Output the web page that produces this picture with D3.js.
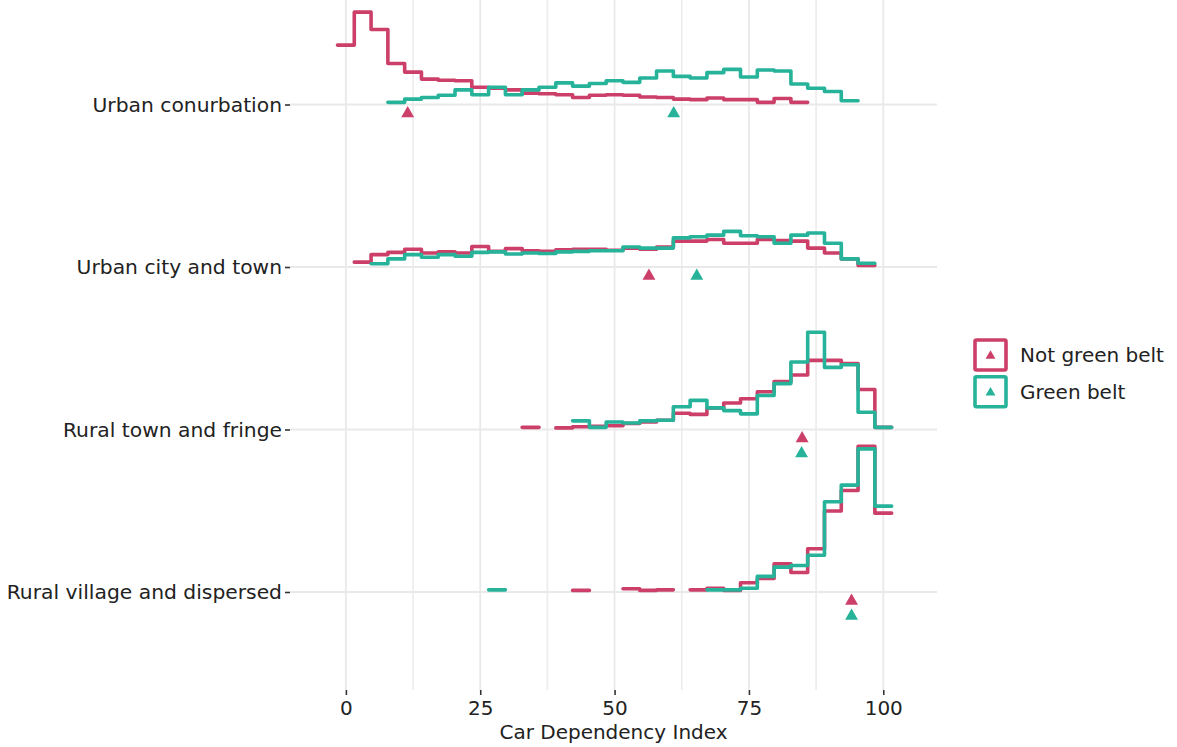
<!DOCTYPE html>
<meta charset="utf-8">
<script src="https://d3js.org/d3.v7.min.js"></script>
<style>
  body { margin: 0; background: #fff; }
  text { font-family: "DejaVu Sans", sans-serif; fill: #222; }
</style>

<div id="my_dataviz"></div>

<script>

// ridge categories, top to bottom
var categories = ["Urban conurbation", "Urban city and town", "Rural town and fringe", "Rural village and dispersed"];
var groups = ["Not green belt", "Green belt"];

// histogram bins: 33 bins of width 3.125 centred on 0, 3.125, ... 100
var binStart = -1.5625;
var binWidth = 3.125;

// share of areas in each bin (%), one array per ridge and group
var conurbNotGB = [11.0, 17.1, 13.9, 7.6, 6.0, 4.7, 4.5, 4.4, 3.2, 3.0, 2.7, 2.1, 2.0, 1.8, 1.3, 1.7, 1.8, 1.7, 1.4, 1.3, 1.0, 0.9, 1.2, 0.9, 0.9, 0.4, 1.1, 0.4, 0, 0, 0, 0, 0];
var conurbGB    = [0, 0, 0, 0.4, 1.0, 1.3, 1.7, 2.7, 1.8, 3.2, 1.8, 2.7, 3.2, 4.0, 3.4, 3.9, 4.4, 4.1, 4.9, 6.2, 5.2, 4.9, 5.9, 6.5, 5.1, 6.4, 6.2, 3.8, 3.0, 2.4, 0.7, 0, 0];
var cityNotGB   = [0, 0.9, 2.3, 2.7, 3.3, 2.6, 2.8, 2.6, 3.8, 2.9, 3.4, 3.0, 2.9, 3.2, 3.3, 3.3, 3.1, 3.5, 3.3, 3.7, 4.8, 4.8, 5.1, 4.4, 4.4, 5.1, 4.9, 4.8, 3.5, 2.6, 1.5, 0.3, 0];
var cityGB      = [0, 0, 0.6, 1.5, 2.3, 1.8, 2.3, 2.0, 2.7, 2.8, 2.4, 2.6, 2.5, 2.8, 2.9, 3.0, 3.0, 3.7, 3.5, 3.5, 5.4, 5.6, 5.9, 6.6, 5.8, 5.6, 4.4, 5.9, 6.3, 4.4, 1.5, 0.7, 0];
var townNotGB   = [0, 0, 0, 0, 0, 0, 0, 0, 0, 0, 0, 0.4, 0, 0.3, 0.5, 0.6, 0.7, 1.1, 1.4, 1.7, 3.0, 2.8, 4.0, 4.9, 5.7, 7.0, 8.9, 10.1, 12.8, 12.8, 12.2, 7.4, 0.4];
var townGB      = [0, 0, 0, 0, 0, 0, 0, 0, 0, 0, 0, 0, 0, 0, 1.6, 0.4, 1.4, 1.2, 1.6, 1.7, 4.2, 5.4, 4.0, 3.5, 2.9, 6.3, 8.5, 12.5, 18.0, 11.5, 12.0, 3.2, 0.4];
var villageNotGB = [0, 0, 0, 0, 0, 0, 0, 0, 0, 0, 0, 0, 0, 0, 0.3, 0, 0, 0.6, 0.3, 0.4, 0, 0.4, 0.7, 0.3, 1.7, 2.5, 5.2, 3.6, 8.0, 15.0, 18.8, 27.0, 14.6];
var villageGB   = [0, 0, 0, 0, 0, 0, 0, 0, 0, 0.4, 0, 0, 0, 0, 0, 0, 0, 0, 0, 0, 0, 0, 0.4, 0.4, 0.7, 2.9, 4.6, 4.9, 6.8, 16.7, 19.8, 26.5, 15.9];

// mean car dependency index per ridge
var meanNotGB = [11.5, 56.4, 84.9, 94.1];
var meanGB    = [61.0, 65.3, 84.8, 94.1];

var xTicks = [0, 25, 50, 75, 100];
var xMinor = [12.5, 37.5, 62.5, 87.5];

var binsNotGB = [conurbNotGB, cityNotGB, townNotGB, villageNotGB];
var binsGB = [conurbGB, cityGB, townGB, villageGB];

var colors = {"Not green belt": "#cc3f69", "Green belt": "#26b39a"};

var panel = {left: 290, right: 937, top: 0, bottom: 690};

var svg = d3.select("#my_dataviz")
  .append("svg")
    .attr("width", 1177)
    .attr("height", 747);

var x = d3.scaleLinear()
  .domain([-10.4, 110])
  .range([panel.left, panel.right]);

var y = d3.scalePoint()
  .domain(categories)
  .range([104.5, 592]);

// bar height in px for a share in %
var h = d3.scaleLinear()
  .domain([0, 30])
  .range([0, 162]);

// grid
var grid = svg.append("g");
grid.selectAll(".vminor")
  .data(xMinor)
  .enter().append("line")
    .attr("x1", d => x(d)).attr("x2", d => x(d))
    .attr("y1", panel.top).attr("y2", panel.bottom)
    .style("stroke", "#ececec").style("stroke-width", 1.6);
grid.selectAll(".vmajor")
  .data(xTicks)
  .enter().append("line")
    .attr("x1", d => x(d)).attr("x2", d => x(d))
    .attr("y1", panel.top).attr("y2", panel.bottom)
    .style("stroke", "#e9e9e9").style("stroke-width", 1.8);
grid.selectAll(".hmajor")
  .data(categories)
  .enter().append("line")
    .attr("x1", panel.left).attr("x2", panel.right)
    .attr("y1", d => y(d)).attr("y2", d => y(d))
    .style("stroke", "#e9e9e9").style("stroke-width", 1.8);

// axes
var yAxis = svg.append("g")
  .attr("transform", "translate(" + panel.left + ",0)")
  .call(d3.axisLeft(y).tickSize(5).tickPadding(3));
yAxis.select(".domain").remove();
yAxis.selectAll("line").style("stroke", "#333").style("stroke-width", 1.6);
yAxis.selectAll("text").style("font-size", "20.3px").style("fill", "#222")
  .style("font-family", "DejaVu Sans");

var xAxis = svg.append("g")
  .attr("transform", "translate(0," + panel.bottom + ")")
  .call(d3.axisBottom(x).tickValues(xTicks).tickSize(5).tickPadding(6));
xAxis.select(".domain").remove();
xAxis.selectAll("line").style("stroke", "#333").style("stroke-width", 1.6);
xAxis.selectAll("text").style("font-size", "20px").style("fill", "#222")
  .style("font-family", "DejaVu Sans");

svg.append("text")
  .attr("x", (panel.left + panel.right) / 2)
  .attr("y", 739)
  .attr("text-anchor", "middle")
  .style("font-size", "20px")
  .text("Car Dependency Index");

// split a series into runs of non-empty bins
function runs(vals) {
  var out = [], cur = null;
  vals.forEach(function(v, i) {
    if (v > 0) {
      if (!cur) { cur = []; out.push(cur); }
      cur.push({i: i, v: v});
    } else {
      cur = null;
    }
  });
  return out;
}

var line = d3.line().curve(d3.curveStepAfter);

function drawSeries(vals, cat, group) {
  var base = y(cat);
  runs(vals).forEach(function(run) {
    var pts = run.map(function(d) {
      return [x(binStart + d.i * binWidth), base - h(d.v)];
    });
    var last = run[run.length - 1];
    pts.push([x(binStart + (last.i + 1) * binWidth), base - h(last.v)]);
    svg.append("path")
      .attr("d", line(pts))
      .style("fill", "none")
      .style("stroke", colors[group])
      .style("stroke-width", 3.6)
      .style("stroke-linejoin", "round")
      .style("stroke-linecap", "round");
  });
}

categories.forEach(function(cat, k) {
  drawSeries(binsNotGB[k], cat, "Not green belt");
  drawSeries(binsGB[k], cat, "Green belt");
});

// mean markers
var tri = d3.symbol().type(d3.symbolTriangle).size(72);
categories.forEach(function(cat, k) {
  var base = y(cat);
  var stacked = Math.abs(meanNotGB[k] - meanGB[k]) < 3;
  svg.append("path")
    .attr("d", tri)
    .attr("transform", "translate(" + x(meanNotGB[k]) + "," + (base + 9) + ")")
    .style("fill", colors["Not green belt"]);
  svg.append("path")
    .attr("d", tri)
    .attr("transform", "translate(" + x(meanGB[k]) + "," + (base + (stacked ? 24 : 9)) + ")")
    .style("fill", colors["Green belt"]);
});

// legend
var legend = svg.append("g");
var legTri = d3.symbol().type(d3.symbolTriangle).size(42);
groups.forEach(function(g, i) {
  var cy = 355 + i * 36.7;
  legend.append("rect")
    .attr("x", 975).attr("y", cy - 15)
    .attr("width", 31).attr("height", 30)
    .attr("rx", 1.5)
    .style("fill", "#fff")
    .style("stroke", colors[g])
    .style("stroke-width", 3.6);
  legend.append("path")
    .attr("d", legTri)
    .attr("transform", "translate(990.5," + (cy + 1) + ")")
    .style("fill", colors[g]);
  legend.append("text")
    .attr("x", 1020)
    .attr("y", cy)
    .attr("dy", "0.35em")
    .style("font-size", "20px")
    .text(g);
});

</script>
